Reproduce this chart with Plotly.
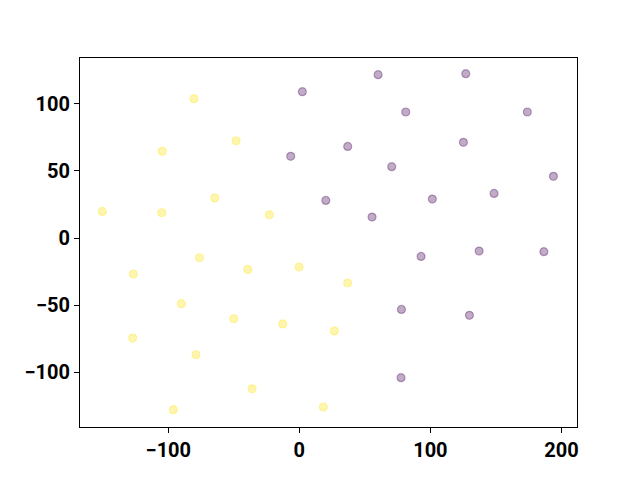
import plotly.graph_objects as go

yellow_x = [-80.4, -48.3, -104.6, -64.6, -150.4, -105.0, -22.9, -76.3, -126.7, -39.4, -0.2,
            36.9, -90.1, -50.1, -12.7, 26.7, -127.2, -78.9, -36.1, -96.2, 18.3]
yellow_y = [103.7, 72.4, 64.5, 29.8, 19.8, 18.8, 17.3, -14.7, -26.8, -23.4, -21.6,
            -33.5, -48.9, -60.1, -64.0, -69.2, -74.5, -86.9, -112.3, -127.8, -125.8]
purple_x = [2.3, -6.6, 20.2, 60.1, 127.0, 81.2, 174.0, 36.9, 125.2, 70.5, 193.9,
            148.6, 101.5, 55.5, 92.9, 137.2, 186.6, 77.9, 129.8, 77.6]
purple_y = [108.9, 60.8, 28.0, 121.6, 122.3, 93.8, 93.8, 68.2, 71.2, 53.1, 45.9,
            33.2, 29.0, 15.6, -13.7, -9.7, -10.2, -53.2, -57.6, -104.0]

x_ticks = [-100, 0, 100, 200]
y_ticks = [-100, -50, 0, 50, 100]

fig = go.Figure()
for xs, ys, col in [(purple_x, purple_y, "rgba(68,1,84,0.33)"),
                    (yellow_x, yellow_y, "rgba(253,231,37,0.36)")]:
    fig.add_trace(go.Scatter(
        x=xs, y=ys, mode="markers",
        marker=dict(size=8, color=col, line=dict(color=col, width=1.2)),
        showlegend=False, hoverinfo="skip"))

axis_common = dict(
    showgrid=False, zeroline=False, showline=True, mirror=True,
    linecolor="black", linewidth=1, ticks="outside", ticklen=5, tickwidth=1,
    tickcolor="black",
    tickfont=dict(family="Roboto", size=20, color="black", weight="bold"),
)
fig.update_xaxes(range=[-167.4, 211.9], tickvals=x_ticks, **axis_common)
fig.update_yaxes(range=[-140.7, 134.0], tickvals=y_ticks, **axis_common)
fig.update_layout(
    width=632, height=472,
    margin=dict(l=72, r=63, t=50, b=53),
    plot_bgcolor="white", paper_bgcolor="white",
)
fig.write_html("out.html")
